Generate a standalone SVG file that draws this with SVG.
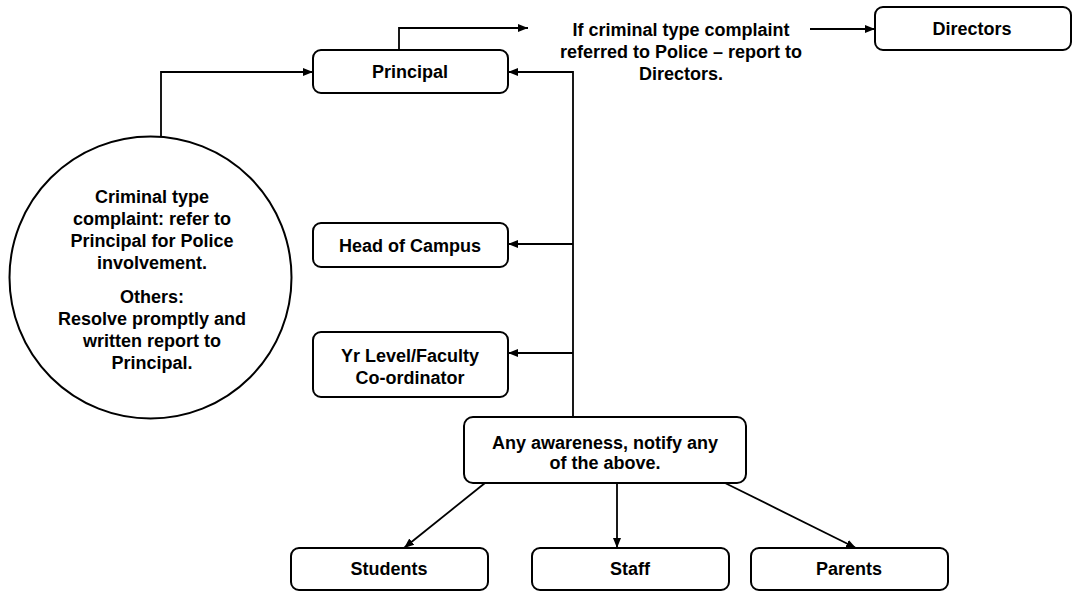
<svg xmlns="http://www.w3.org/2000/svg" width="1074" height="592" viewBox="0 0 1074 592">
<style>
.box{fill:#fff;stroke:#000;stroke-width:2}
.t{font-family:"Liberation Sans",Arial,sans-serif;font-weight:bold;font-size:18px;fill:#000;text-anchor:middle}
.c{fill:none;stroke:#000;stroke-width:1.8}
</style>
<defs>
<marker id="ah" markerUnits="userSpaceOnUse" markerWidth="10" markerHeight="10" viewBox="0 0 10 10" refX="10" refY="5" orient="auto">
<path d="M0,1 L10,5 L0,9 Z" fill="#000"/>
</marker>
</defs>
<rect width="1074" height="592" fill="#fff"/>
<g id="connectors">
<path class="c" d="M399,50 V28 H528" marker-end="url(#ah)"/>
<path class="c" d="M810,29 H875" marker-end="url(#ah)"/>
<path class="c" d="M161,137 V72 H313" marker-end="url(#ah)"/>
<path class="c" d="M573,417 V72 H508" marker-end="url(#ah)"/>
<path class="c" d="M573,244 H508" marker-end="url(#ah)"/>
<path class="c" d="M573,353 H508" marker-end="url(#ah)"/>
<path class="c" d="M485,483 L404,548" marker-end="url(#ah)"/>
<path class="c" d="M617,483 V548" marker-end="url(#ah)"/>
<path class="c" d="M725,483 L856,548" marker-end="url(#ah)"/>
</g>
<g id="principal">
<rect class="box" x="313" y="50" width="195" height="43" rx="8"/>
<text class="t" x="410" y="78">Principal</text>
</g>
<g id="police-note">
<text class="t" x="681" y="36">If criminal type complaint</text>
<text class="t" x="681" y="58">referred to Police – report to</text>
<text class="t" x="681" y="80">Directors.</text>
</g>
<g id="directors">
<rect class="box" x="875" y="7" width="196" height="43" rx="8"/>
<text class="t" x="972" y="35">Directors</text>
</g>
<g id="circle">
<circle class="box" cx="150.5" cy="277.5" r="141"/>
<text class="t" x="152" y="203">Criminal type</text>
<text class="t" x="152" y="225">complaint: refer to</text>
<text class="t" x="152" y="247">Principal for Police</text>
<text class="t" x="152" y="269">involvement.</text>
<text class="t" x="152" y="303">Others:</text>
<text class="t" x="152" y="325">Resolve promptly and</text>
<text class="t" x="152" y="347">written report to</text>
<text class="t" x="152" y="369">Principal.</text>
</g>
<g id="head-of-campus">
<rect class="box" x="313" y="223" width="195" height="44" rx="8"/>
<text class="t" x="410" y="251.5">Head of Campus</text>
</g>
<g id="yr-level">
<rect class="box" x="313" y="332" width="195" height="65" rx="8"/>
<text class="t" x="410" y="362">Yr Level/Faculty</text>
<text class="t" x="410" y="384">Co-ordinator</text>
</g>
<g id="awareness">
<rect class="box" x="464" y="417" width="282" height="66" rx="9"/>
<text class="t" x="605" y="449">Any awareness, notify any</text>
<text class="t" x="605" y="469">of the above.</text>
</g>
<g id="students">
<rect class="box" x="291" y="548" width="197" height="42" rx="8"/>
<text class="t" x="389" y="575">Students</text>
</g>
<g id="staff">
<rect class="box" x="532" y="548" width="197" height="42" rx="8"/>
<text class="t" x="630" y="575">Staff</text>
</g>
<g id="parents">
<rect class="box" x="751" y="548" width="197" height="42" rx="8"/>
<text class="t" x="849" y="575">Parents</text>
</g>
</svg>
